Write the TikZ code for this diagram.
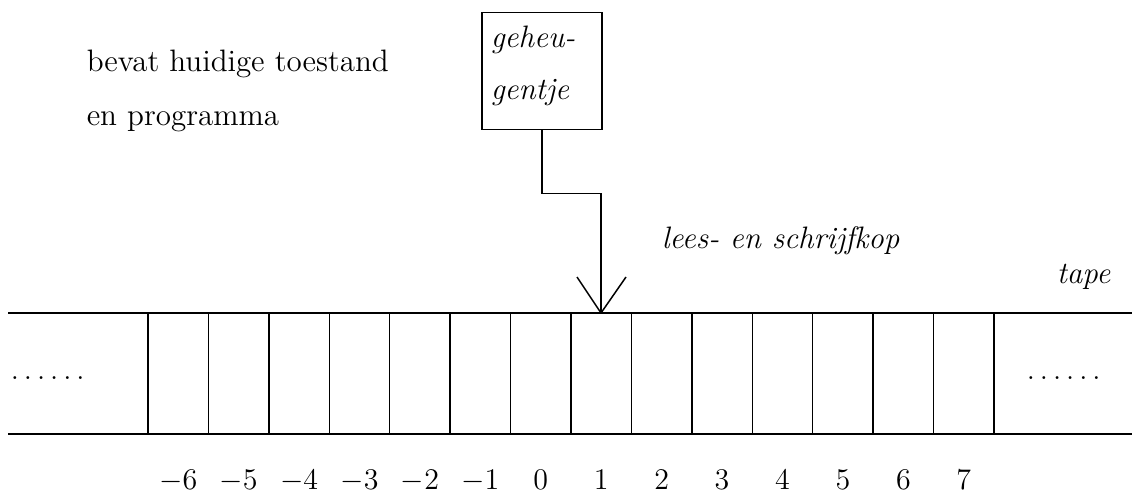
\documentclass[tikz,border=0pt]{standalone}
\begin{document}
\begin{tikzpicture}[x=0.4pt,y=-0.4pt,line width=0.6pt,
  txt/.style={font=\fontsize{12.4}{15}\selectfont, inner sep=0, anchor=base west},
  itxt/.style={txt, font=\fontsize{12.4}{15}\selectfont\itshape},
  numlbl/.style={font=\fontsize{12.4}{15}\selectfont, inner sep=0, anchor=base},
  membox/.style={draw, inner sep=0, anchor=north west, minimum width=48pt, minimum height=46.8pt}]
\useasboundingbox (0,0) rectangle (1132,497);
% tape
\draw (8,313) -- (1132,313);
\draw (8,434) -- (1132,434);
\foreach \i in {0,...,14} \draw ({148+60.43*\i},313) -- ({148+60.43*\i},434);
\foreach \n [count=\i from 0] in {-6,...,7}
  \node[numlbl] (lbl\i) at ({178.2+60.43*\i},490) {$\n$};
\node[txt] (ldots) at (10,380) {$\ldots\ldots$};
\node[txt] (rdots) at (1026,380) {$\ldots\ldots$};
\node[itxt] (tape) at (1056,284) {tape};
% memory box
\node[membox] (mem) at (481,12) {};
\node[itxt] (mem1) at (490,48) {geheu-};
\node[itxt] (mem2) at (490,100) {gentje};
\node[txt] (info1) at (86,72) {bevat huidige toestand};
\node[txt] (info2) at (86,126) {en programma};
% head
\coordinate (head) at (601,313);
\draw (mem.south) -- ++(0,63) -| (head);
\draw (head) -- ++(-24,-36);
\draw (head) -- ++(25,-36);
\node[itxt] (headlbl) at (661,249) {lees- en schrijfkop};
\end{tikzpicture}
\end{document}
